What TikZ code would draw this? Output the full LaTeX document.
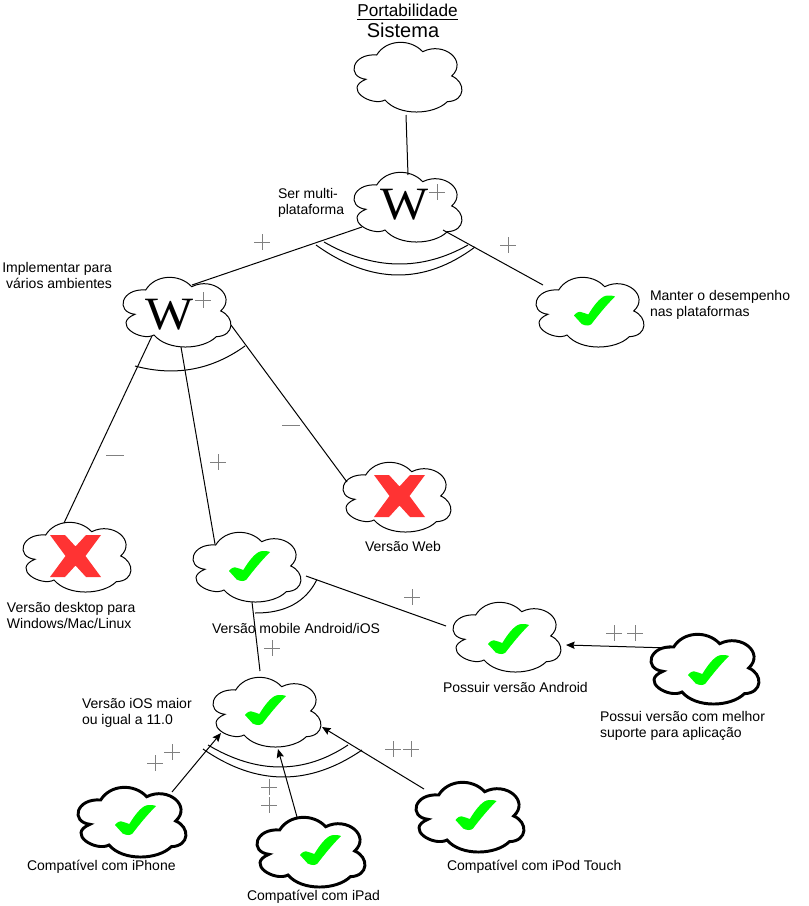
\documentclass[tikz,border=0pt]{standalone}
\usepackage{fontspec}
\setmainfont{Liberation Sans}
\newfontfamily\wikifont{Liberation Serif}
\usetikzlibrary{calc,arrows.meta}
\definecolor{okgreen}{HTML}{00FF00}
\definecolor{nored}{HTML}{FF3333}
\definecolor{markgray}{HTML}{808080}
\tikzset{
  cloudbox/.style={inner sep=0pt,outer sep=0pt,minimum width=90pt,minimum height=60pt},
  thincloud/.style={draw=black,fill=white,line width=0.75pt},
  thickcloud/.style={draw=black,fill=white,line width=2.2pt},
  link/.style={draw=black,line width=0.75pt},
  arrowlink/.style={link,-{Stealth[length=6.5pt,width=5.5pt,inset=1pt]}},
  andarc/.style={draw=black,line width=0.75pt},
  signmark/.style={draw=markgray,line width=0.75pt},
  lbl/.style={inner sep=0pt,outer sep=0pt,font=\fontsize{10.5}{12}\selectfont,align=left,anchor=west},
  lblc/.style={lbl,align=center,anchor=center},
  lblr/.style={lbl,align=right,anchor=east},
  wiki/.style={inner sep=0pt,font=\wikifont\fontsize{34.7}{36}\selectfont},
}
\newcommand{\cloudat}[4]{%
  \node[cloudbox] (#1) at (#2,#3) {};
  \path[#4,shift={(#1.center)}] (-42,2.3)
    .. controls (-62,0) and (-56,-24) .. (-31.3,-22)
    .. controls (-22,-37.5) and (2,-39) .. (14.7,-25.3)
    .. controls (36,-36) and (60,-16) .. (43.7,-1)
    .. controls (58,5) and (58,24) .. (39.3,24.7)
    .. controls (26,38) and (-9,39.5) .. (-23,23)
    .. controls (-36,30) and (-66,12) .. (-42,2.3) -- cycle;}
\newcommand{\chk}[2]{%
  \fill[okgreen,shift={(#1,#2)}] (-20.5,4.5)
    .. controls (-18,1.5) and (-16,0.5) .. (-14.5,0.8)
    .. controls (-11,1.5) and (-8,3) .. (-6.2,3.5)
    .. controls (-1,-5) and (5,-13) .. (10.5,-15)
    .. controls (14,-16) and (18,-15.5) .. (20.5,-14.5)
    .. controls (12,-6) and (3,5) .. (-3,13)
    .. controls (-5,15) and (-9,15) .. (-12.8,13) -- cycle;}
\newcommand{\redx}[2]{%
  \fill[nored,shift={(#1,#2)}] (-25.5,-21) -- (-10.5,-21) -- (0,-9.5) -- (10.5,-21) -- (25.5,-21)
    -- (10,0) -- (25.5,21) -- (10.5,21) -- (0,9.5) -- (-10.5,21) -- (-25.5,21) -- (-10,0) -- cycle;}
\newcommand{\plusm}[2]{\draw[signmark,shift={(#1,#2)}] (-8,0) -- (8,0) (0,-8) -- (0,8);}
\newcommand{\minusm}[2]{\draw[signmark,shift={(#1,#2)}] (-9,0) -- (9,0);}
\begin{document}
\begin{tikzpicture}[x=0.75pt,y=-0.75pt]
\useasboundingbox (0,0) rectangle (809,906);
\fill[white] (0,0) rectangle (809,906);
% clouds
\cloudat{sys}{408}{77}{thincloud}
\cloudat{multi}{408}{207}{thincloud}
\cloudat{impl}{177}{312}{thincloud}
\cloudat{desemp}{590}{312}{thincloud}
\cloudat{web}{397}{497}{thincloud}
\cloudat{desk}{77}{557}{thincloud}
\cloudat{mobile}{247}{567}{thincloud}
\cloudat{android}{507}{637}{thincloud}
\cloudat{melhor}{705}{669}{thickcloud}
\cloudat{ios}{267}{712}{thincloud}
\cloudat{iphone}{132}{822}{thickcloud}
\cloudat{ipad}{311}{852}{thickcloud}
\cloudat{ipod}{470}{817}{thickcloud}
% icons
\node[wiki] (wa) at (405,205) {\scalebox{1.1}[1]{W}};
\node[wiki] (wb) at (170,315) {\scalebox{1.1}[1]{W}};
\chk{594.5}{311}
\chk{249.5}{566.5}
\chk{508.5}{639.5}
\chk{708.5}{670.5}
\chk{265.5}{710.5}
\chk{135.5}{820.5}
\chk{320.5}{850.5}
\chk{476}{815.5}
\redx{399.5}{496}
\redx{75.5}{556}
% connectors
\draw[link] ($(sys)+(-2,38)$) -- ($(multi)+(0,-32)$);
\draw[link] ($(multi)+(-46,20)$) -- ($(impl)+(15,-27)$);
\draw[link] ($(multi)+(35,23)$) -- ($(desemp)+(-47,-27)$);
\draw[link] ($(impl)+(-25,24)$) -- ($(desk)+(-13,-34)$);
\draw[link] ($(impl)+(4,35)$) -- ($(mobile)+(-32,-23)$);
\draw[link] ($(impl)+(54,13)$) -- ($(web)+(-50,-15)$);
\draw[link] ($(mobile)+(59,9)$) -- ($(android)+(-61,-11)$);
\draw[link] ($(mobile)+(5,35)$) -- ($(ios)+(-7,-41)$);
\draw[arrowlink] ($(melhor)+(-35,-21)$) -- ($(android)+(59,8)$);
\draw[arrowlink] ($(iphone)+(40,-30)$) -- ($(ios)+(-46,21)$);
\draw[arrowlink] ($(ipad)+(-14,-35)$) -- ($(ios)+(11,37)$);
\draw[arrowlink] ($(ipod)+(-46,-28)$) -- ($(ios)+(55,15)$);
% and arcs
\draw[andarc] (324,242) .. controls (373.3,270.3) and (421.3,271.3) .. (468,245);
\draw[andarc] (316,245) .. controls (371,284.3) and (424,285) .. (475,247);
\draw[andarc] (135,366) .. controls (175,376.7) and (211.7,370) .. (245,346);
\draw[andarc] (255,613) .. controls (285,613.3) and (305.6,602) .. (316.7,580);
\draw[andarc] (208,745) .. controls (257.3,774.3) and (304,774.3) .. (348,745);
\draw[andarc] (203,749) .. controls (256.3,786) and (309,786.3) .. (362,750);
% signs
\plusm{437}{192}
\plusm{203}{300}
\plusm{262}{242}
\plusm{508}{245}
\plusm{218}{462}
\plusm{412}{597}
\plusm{272}{648}
\plusm{614}{633}
\plusm{635}{633}
\plusm{155}{763}
\plusm{172}{752}
\plusm{269}{787}
\plusm{269}{805}
\plusm{393}{749}
\plusm{411}{749}
\minusm{115}{455}
\minusm{291}{425}
% labels
\node[lblc,font=\fontsize{12.9}{14}\selectfont] (ttitle) at (407.5,12) {\underline{Portabilidade}};
\node[lblc,font=\fontsize{15}{17}\selectfont] (tsys) at (403,30) {Sistema};
\node[lbl] (tmulti) at (278,203) {Ser multi-\\plataforma};
\node[lblr] (timpl) at (112,275) {Implementar para\\ vários ambientes};
\node[lbl] (tdesemp) at (650,305) {Manter o desempenho\\nas plataformas};
\node[lblc] (tweb) at (403,546.5) {Versão Web};
\node[lbl] (tdesk) at (7,615) {Versão desktop para\\Windows/Mac/Linux};
\node[lbl] (tmobile) at (212,628) {Versão mobile Android/iOS};
\node[lbl] (tandroid) at (443,687) {Possuir versão Android};
\node[lbl] (tmelhor) at (600,726) {Possui versão com melhor\\suporte para aplicação};
\node[lbl] (tios) at (82,712.5) {Versão iOS maior\\ou igual a 11.0};
\node[lbl] (tiphone) at (27,867) {Compatível com iPhone};
\node[lbl] (tipad) at (247,897) {Compatível com iPad};
\node[lbl] (tipod) at (447,867) {Compatível com iPod Touch};
\end{tikzpicture}
\end{document}
